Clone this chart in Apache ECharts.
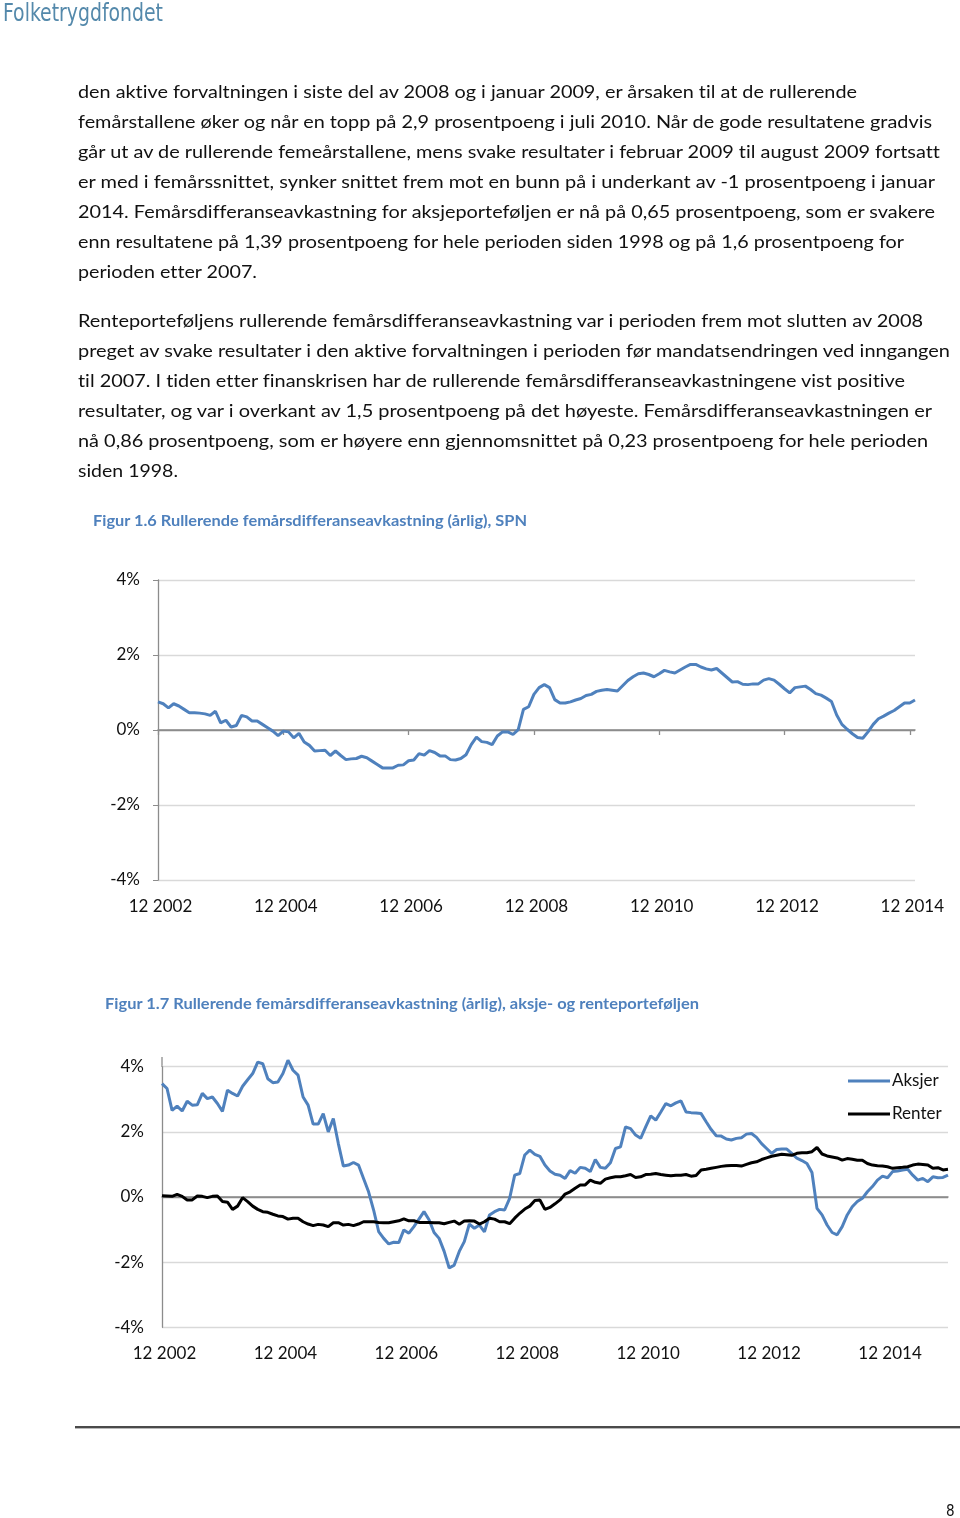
<!DOCTYPE html>
<html>
<head>
<meta charset="utf-8">
<script src="https://cdn.jsdelivr.net/npm/echarts@6/dist/echarts.min.js"></script>
<style>
  html, body { margin: 0; padding: 0; background: #fff; }
  body { width: 960px; height: 1518px; position: relative; overflow: hidden; font-family: Lato, "Open Sans", sans-serif; font-variant-ligatures: none; }
  #chart { position: absolute; left: 0; top: 0; width: 960px; height: 1518px; }
  .ln { position: absolute; left: 78px; white-space: nowrap; font-size: 18px; line-height: 30px; color: #111; transform-origin: 0 50%; display: inline-block; }
  .fig { position: absolute; white-space: nowrap; font-size: 15.5px; font-weight: bold; color: #4f81bd; transform-origin: 0 50%; display: inline-block; line-height: 20px; }
  #logo { position: absolute; left: 3px; top: -2px; font-family: "DejaVu Sans Condensed", "DejaVu Sans", sans-serif; font-size: 24px; color: #5489ab; white-space: nowrap; transform-origin: 0 50%; display: inline-block; line-height: 30px; }
  #rule { position: absolute; left: 75px; top: 1426px; width: 885px; height: 2px; background: #4a4a4a; box-shadow: 0 1px 0 #b8b8b8; }
  #pg { position: absolute; left: 946px; top: 1501px; font-family: "DejaVu Sans Condensed", sans-serif; font-size: 15px; color: #111; line-height: 20px; }
</style>
</head>
<body>
<div id="chart"></div>
<div id="logo" data-w="160">Folketrygdfondet</div>

<div class="ln" style="top:76px" data-w="779">den aktive forvaltningen i siste del av 2008 og i januar 2009, er årsaken til at de rullerende</div>
<div class="ln" style="top:106px" data-w="854">femårstallene øker og når en topp på 2,9 prosentpoeng i juli 2010. Når de gode resultatene gradvis</div>
<div class="ln" style="top:136px" data-w="862">går ut av de rullerende femeårstallene, mens svake resultater i februar 2009 til august 2009 fortsatt</div>
<div class="ln" style="top:166px" data-w="857">er med i femårssnittet, synker snittet frem mot en bunn på i underkant av -1 prosentpoeng i januar</div>
<div class="ln" style="top:196px" data-w="857">2014. Femårsdifferanseavkastning for aksjeporteføljen er nå på 0,65 prosentpoeng, som er svakere</div>
<div class="ln" style="top:226px" data-w="826">enn resultatene på 1,39 prosentpoeng for hele perioden siden 1998 og på 1,6 prosentpoeng for</div>
<div class="ln" style="top:256px" data-w="179">perioden etter 2007.</div>

<div class="ln" style="top:305px" data-w="845">Renteporteføljens rullerende femårsdifferanseavkastning var i perioden frem mot slutten av 2008</div>
<div class="ln" style="top:335px" data-w="872">preget av svake resultater i den aktive forvaltningen i perioden før mandatsendringen ved inngangen</div>
<div class="ln" style="top:365px" data-w="827">til 2007. I tiden etter finanskrisen har de rullerende femårsdifferanseavkastningene vist positive</div>
<div class="ln" style="top:395px" data-w="854">resultater, og var i overkant av 1,5 prosentpoeng på det høyeste. Femårsdifferanseavkastningen er</div>
<div class="ln" style="top:425px" data-w="850">nå 0,86 prosentpoeng, som er høyere enn gjennomsnittet på 0,23 prosentpoeng for hele perioden</div>
<div class="ln" style="top:455px" data-w="100">siden 1998.</div>

<div class="fig" style="left:93px; top:510px" data-w="434">Figur 1.6 Rullerende femårsdifferanseavkastning (årlig), SPN</div>
<div class="fig" style="left:105px; top:993px" data-w="594">Figur 1.7 Rullerende femårsdifferanseavkastning (årlig), aksje- og renteporteføljen</div>

<div id="rule"></div>
<div id="pg">8</div>

<script>
// ---------- DATA ----------
// Figure 1.6: rolling five-year excess return (annual, %), SPN, monthly from 12 2002
const spnValues = [
  0.75, 0.70, 0.59, 0.70, 0.64, 0.55, 0.46, 0.46, 0.45, 0.43, 0.39, 0.50,
  0.19, 0.26, 0.08, 0.12, 0.39, 0.35, 0.24, 0.24, 0.15, 0.06, -0.03, -0.15,
  -0.03, -0.05, -0.21, -0.09, -0.32, -0.41, -0.56, -0.55, -0.54, -0.68, -0.56, -0.68,
  -0.79, -0.77, -0.76, -0.70, -0.74, -0.83, -0.92, -1.01, -1.01, -1.01, -0.94, -0.93,
  -0.82, -0.80, -0.63, -0.67, -0.55, -0.60, -0.69, -0.69, -0.79, -0.80, -0.76, -0.66,
  -0.39, -0.19, -0.31, -0.33, -0.39, -0.16, -0.05, -0.05, -0.12, 0.01, 0.55, 0.62,
  0.95, 1.13, 1.21, 1.13, 0.81, 0.72, 0.72, 0.75, 0.80, 0.84, 0.92, 0.95,
  1.03, 1.06, 1.08, 1.06, 1.04, 1.18, 1.32, 1.42, 1.50, 1.52, 1.48, 1.42,
  1.50, 1.59, 1.55, 1.52, 1.60, 1.68, 1.75, 1.75, 1.68, 1.63, 1.60, 1.64,
  1.52, 1.40, 1.28, 1.29, 1.22, 1.21, 1.23, 1.23, 1.33, 1.37, 1.33, 1.22,
  1.10, 0.99, 1.13, 1.15, 1.17, 1.08, 0.97, 0.93, 0.85, 0.76, 0.40, 0.15,
  0.02, -0.10, -0.20, -0.22, -0.05, 0.15, 0.30, 0.37, 0.45, 0.52, 0.62, 0.72,
  0.72, 0.80
];

// Figure 1.7: equity (Aksjer) and fixed income (Renter), monthly from 12 2002
const aksjerValues = [
  3.48, 3.33, 2.66, 2.79, 2.64, 2.94, 2.82, 2.83, 3.18, 3.02, 3.07, 2.87,
  2.63, 3.28, 3.18, 3.10, 3.40, 3.60, 3.79, 4.14, 4.09, 3.63, 3.51, 3.53,
  3.79, 4.20, 3.89, 3.74, 3.07, 2.82, 2.24, 2.24, 2.56, 2.00, 2.41, 1.64,
  0.95, 0.98, 1.06, 0.98, 0.57, 0.16, -0.40, -1.06, -1.27, -1.44, -1.39, -1.40,
  -1.01, -1.11, -0.91, -0.68, -0.45, -0.70, -1.09, -1.27, -1.67, -2.18, -2.09, -1.67,
  -1.37, -0.83, -0.96, -0.86, -1.07, -0.55, -0.45, -0.38, -0.40, -0.04, 0.67, 0.72,
  1.29, 1.44, 1.31, 1.25, 0.98, 0.80, 0.70, 0.67, 0.57, 0.81, 0.73, 0.91,
  0.88, 0.78, 1.15, 0.91, 0.88, 1.05, 1.49, 1.54, 2.15, 2.10, 1.90, 1.80,
  2.15, 2.49, 2.36, 2.61, 2.87, 2.80, 2.89, 2.95, 2.61, 2.59, 2.58, 2.56,
  2.31, 2.07, 1.88, 1.87, 1.78, 1.75, 1.80, 1.82, 1.93, 1.95, 1.83, 1.64,
  1.49, 1.34, 1.46, 1.47, 1.47, 1.34, 1.19, 1.12, 1.03, 0.75, -0.35, -0.55,
  -0.86, -1.09, -1.16, -0.91, -0.55, -0.30, -0.14, -0.04, 0.16, 0.32, 0.52, 0.64,
  0.59, 0.78, 0.80, 0.83, 0.85, 0.67, 0.52, 0.57, 0.47, 0.62, 0.59, 0.60,
  0.67
];
const renterValues = [
  0.04, 0.03, 0.02, 0.08, 0.02, -0.09, -0.09, 0.03, 0.02, -0.02, 0.02, 0.03,
  -0.14, -0.16, -0.38, -0.28, -0.02, -0.14, -0.28, -0.38, -0.45, -0.47, -0.53, -0.58,
  -0.60, -0.68, -0.65, -0.65, -0.76, -0.83, -0.88, -0.84, -0.86, -0.91, -0.79, -0.79,
  -0.86, -0.84, -0.88, -0.83, -0.76, -0.76, -0.76, -0.78, -0.79, -0.79, -0.76, -0.73,
  -0.67, -0.73, -0.73, -0.78, -0.78, -0.78, -0.79, -0.79, -0.82, -0.78, -0.74, -0.84,
  -0.74, -0.73, -0.74, -0.83, -0.76, -0.65, -0.68, -0.76, -0.76, -0.82, -0.65, -0.50,
  -0.37, -0.28, -0.11, -0.09, -0.38, -0.32, -0.21, -0.09, 0.09, 0.16, 0.27, 0.37,
  0.37, 0.52, 0.45, 0.42, 0.55, 0.59, 0.62, 0.62, 0.65, 0.69, 0.60, 0.62,
  0.69, 0.70, 0.72, 0.69, 0.67, 0.65, 0.67, 0.67, 0.69, 0.64, 0.66, 0.83,
  0.85, 0.88, 0.91, 0.94, 0.96, 0.97, 0.97, 0.95, 1.00, 1.05, 1.08, 1.15,
  1.20, 1.25, 1.28, 1.31, 1.30, 1.28, 1.34, 1.36, 1.36, 1.39, 1.52, 1.32,
  1.26, 1.23, 1.20, 1.13, 1.18, 1.16, 1.13, 1.13, 1.03, 0.98, 0.96, 0.95,
  0.93, 0.88, 0.90, 0.91, 0.93, 0.98, 1.01, 1.00, 0.98, 0.88, 0.90, 0.83,
  0.85
];

const seriesNames = ['Aksjer', 'Renter'];
const yTicks = { min: -4, max: 4, interval: 2 };

// month labels "M YYYY", starting 12 2002
function monthLabels(startMonth, startYear, count) {
  const out = [];
  let m = startMonth, y = startYear;
  for (let i = 0; i < count; i++) {
    out.push(m + ' ' + y);
    m++; if (m > 12) { m = 1; y++; }
  }
  return out;
}
const spnCategories = monthLabels(12, 2002, spnValues.length);
const portCategories = monthLabels(12, 2002, aksjerValues.length);

// ---------- CHART ----------
const FONT = 'Lato, "Open Sans", sans-serif';
const chart = echarts.init(document.getElementById('chart'), null, { renderer: 'canvas' });

function yAxisFor(gridIndex, ticks) {
  return {
    type: 'value', gridIndex: gridIndex,
    min: yTicks.min, max: yTicks.max, interval: yTicks.interval,
    axisLine: { show: true, lineStyle: { color: '#8c8c8c', width: 1.3 } },
    axisTick: { show: ticks, length: 5, lineStyle: { color: '#8c8c8c' } },
    axisLabel: { formatter: '{value}%', fontFamily: FONT, fontSize: 17, color: '#111', margin: 18 },
    splitLine: { show: true, lineStyle: { color: ['#d9d9d9', '#d9d9d9', '#8c8c8c', '#d9d9d9', '#d9d9d9'], width: 1.3 } }
  };
}
function labelAxis(gridIndex, cats) {
  return {
    type: 'category', gridIndex: gridIndex, data: cats, boundaryGap: false, position: 'bottom',
    axisLine: { show: false, onZero: false },
    axisTick: { show: false },
    axisLabel: { interval: 23, fontFamily: FONT, fontSize: 17, color: '#111', margin: 18, padding: [0, 0, 0, 5] },
    splitLine: { show: false }
  };
}
function zeroAxis(gridIndex, cats, ticks) {
  return {
    type: 'category', gridIndex: gridIndex, data: cats, boundaryGap: false, position: 'bottom',
    axisLine: { show: true, onZero: true, lineStyle: { color: '#8c8c8c', width: 1.5 } },
    axisTick: { show: ticks, interval: 23, length: 5, lineStyle: { color: '#8c8c8c', width: 1.3 } },
    axisLabel: { show: false },
    splitLine: { show: false }
  };
}

const option = {
  animation: false,
  backgroundColor: 'transparent',
  grid: [
    { left: 158, top: 580, width: 757, height: 300, containLabel: false },
    { left: 162, top: 1066.7, width: 786, height: 260.6, containLabel: false }
  ],
  xAxis: [
    labelAxis(0, spnCategories),
    zeroAxis(0, spnCategories, true),
    labelAxis(1, portCategories),
    zeroAxis(1, portCategories, false)
  ],
  yAxis: [yAxisFor(0, true), yAxisFor(1, false)],
  legend: {
    data: seriesNames,
    orient: 'vertical',
    left: 843, top: 1066,
    icon: 'rect', itemWidth: 42, itemHeight: 3, itemGap: 13,
    textStyle: { fontFamily: FONT, fontSize: 17, color: '#111', lineHeight: 20, padding: [0, 0, 0, -3] },
    selectedMode: false
  },
  graphic: [
    // y-axis of the second chart runs a little above the 4% gridline, as in the reference
    { type: 'line', shape: { x1: 162, y1: 1057, x2: 162, y2: 1067 }, style: { stroke: '#8c8c8c', lineWidth: 1.3 }, silent: true }
  ],
  series: [
    {
      name: 'SPN', type: 'line', xAxisIndex: 0, yAxisIndex: 0, data: spnValues,
      symbol: 'none', clip: false,
      lineStyle: { color: '#4f81bd', width: 3 }, itemStyle: { color: '#4f81bd' }
    },
    {
      name: seriesNames[0], type: 'line', xAxisIndex: 2, yAxisIndex: 1, data: aksjerValues,
      symbol: 'none', clip: false,
      lineStyle: { color: '#4f81bd', width: 3 }, itemStyle: { color: '#4f81bd' }
    },
    {
      name: seriesNames[1], type: 'line', xAxisIndex: 2, yAxisIndex: 1, data: renterValues,
      symbol: 'none', clip: false,
      lineStyle: { color: '#000000', width: 3 }, itemStyle: { color: '#000000' }
    }
  ]
};
chart.setOption(option);

// fit text lines to the widths measured on the reference
document.querySelectorAll('[data-w]').forEach(function (el) {
  const target = parseFloat(el.getAttribute('data-w'));
  const actual = el.getBoundingClientRect().width;
  if (actual > 0) el.style.transform = 'scaleX(' + (target / actual) + ')';
});
</script>
</body>
</html>
